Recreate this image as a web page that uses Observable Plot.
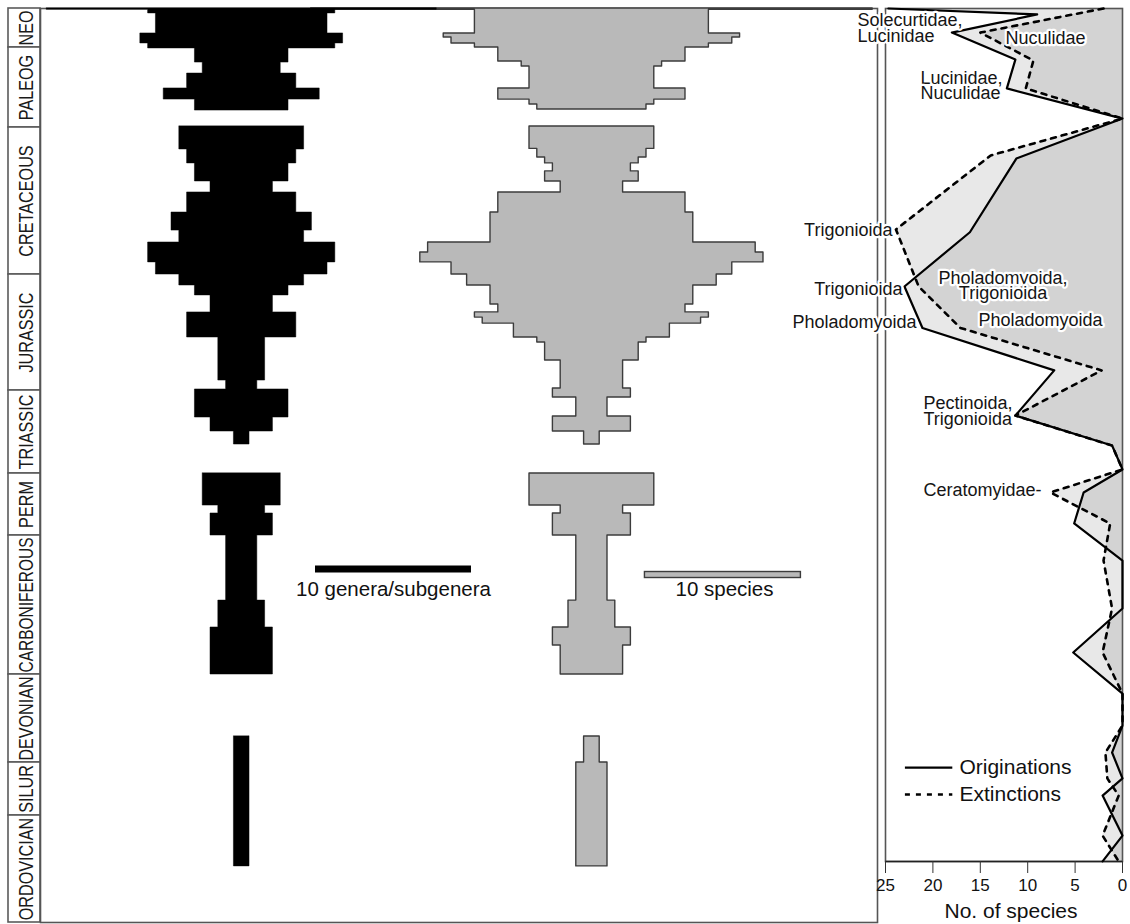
<!DOCTYPE html>
<html><head><meta charset="utf-8">
<script src="https://cdn.jsdelivr.net/npm/d3@7"></script>
<script src="https://cdn.jsdelivr.net/npm/@observablehq/plot@0.6"></script>
<style>
body{margin:0;background:#fff;}
#wrap{position:relative;width:1130px;height:924px;font-family:"Liberation Sans",Arial,Helvetica,sans-serif;}
#wrap svg{position:absolute;left:0;top:0;overflow:visible;background:transparent !important;}
</style></head><body><div id="wrap"></div>
<script>
// ---------- DATA ----------
// geological periods (ages in Ma)
const periodNames = ["NEO","PALEOG","CRETACEOUS","JURASSIC","TRIASSIC","PERM","CARBONIFEROUS","DEVONIAN","SILUR","ORDOVICIAN"];
const periodTop  = [0, 23, 66, 145, 201, 252, 299, 359, 419, 444];
const periodBase = [23, 66, 145, 201, 252, 299, 359, 419, 444, 485];

// genera/subgenera diversity per time bin: [top Ma, base Ma, count]
const generaBins = [
  [0,0.8,25],[0.8,2.9,12],[2.9,14.7,11],[14.7,20.6,13],[20.6,23.5,12],[23.5,31.1,6],[31.1,37.0,5],[37.0,45.0,7],[45.0,51.0,10],[51.0,56.9,6],
  [65.5,77.8,8],[77.8,85.3,7],[85.3,95.0,6],[95.0,100.9,4],[100.9,111.7,7],[111.7,121.4,9],[121.4,127.8,8],[127.8,138.5,12],[138.5,145,11],
  [145,150.3,8],[150.3,155.1,6],[155.1,163.3,4],[163.3,175.4,7],[175.4,196.2,3],[196.2,200.5,2],[200.5,217.6,6],[217.6,226.2,4],[226.2,234.2,1],
  [252,276.3,5],[276.3,282.3,3],[282.3,299,4],[299,327.1,2],[327.1,338.7,3],[338.7,359,4],
  [401.3,463.5,1]
];
// species diversity per time bin: [top Ma, base Ma, count]
const speciesBins = [
  [0,0.8,36],[0.8,14.7,15],[14.7,17.1,19],[17.1,20.6,18],[20.6,23,15],[23,30.5,12],[30.5,33.2,9],[33.2,45,8],[45,51,12],[51,53.6,8],[53.6,56.3,7],
  [65.5,77.5,8],[77.5,82.1,7],[82.1,85.3,6],[85.3,89.6,5],[89.6,95,6],[95,100.9,4],[100.9,111.7,12],[111.7,127.8,13],[127.8,133.2,21],[133.2,138.5,22],[138.5,145,18],
  [145,150.3,16],[150.3,159.5,13],[159.5,163.3,12],[163.3,165.8,15],[165.8,168.7,14],[168.7,175.4,10],[175.4,177.8,7],[177.8,186.5,6],[186.5,200,4],
  [200,205.3,5],[205.3,217,2],[217,226.2,5],[226.2,234.2,1],
  [252,276.3,8],[276.3,282.3,4],[282.3,299,5],[299,327.1,2],[327.1,338.7,3],[338.7,346.5,5],[346.5,359,4],
  [401.3,419,1],[419,463.5,2]
];

// originations / extinctions (No. of species)
const originAge = [0,3.5,14.2,29.5,45.0,61.2,82.7,122.3,150.8,170.8,191.3,216.4,234.8,249.5,266.4,289.9,309.8,330.5,349.5,372.0,393.8,412.2,426.5,434.6,451.7,461.6];
const originN   = [24.7,9.0,18.0,11.3,12.2,0,11.2,16.1,23.0,21.1,7.2,11.3,1.1,0,4.1,5.1,0,0,5.2,0,0,1.1,0,2.1,0,2.1];
const extinctAge = [0,14.2,30.0,45.0,61.2,81.0,120.8,150.8,170.8,191.3,216.4,234.8,249.5,266.4,289.9,309.8,330.5,349.5,372.0,393.8,412.2,426.5,434.6,451.7,461.6];
const extinctN   = [2.0,15.0,9.4,10.2,0,13.9,23.9,21.5,17.1,2.2,11.3,1.1,0,7.6,1.3,2.0,1.1,2.1,0,0,1.8,1.6,0.4,2.1,0.4];

// annotations on right panel
const noteText   = ["Solecurtidae,\nLucinidae","Nuculidae","Lucinidae,\nNuculidae","Trigonioida","Trigonioida","Pholadomyoida","Pholadomyoida,\nTrigonioida","Pholadomyoida","Pectinoida,\nTrigonioida","Ceratomyidae-"];
const noteAge    = [12.2, 18.0, 44.0, 121.9, 152.5, 168.2, 150.8, 167.5, 214.3, 265.3];
const noteN      = [27.95, 12.34, 21.31, 24.26, 23.2, 21.73, 12.6, 15.19, 20.99, 20.99];
const noteAnchor = ["start","start","start","end","end","end","middle","start","start","start"];
const noteBox    = [true,true,true,true,true,true,true,true,false,false];

const legendLabels = ["Originations","Extinctions"];
const legendAge    = [421.4, 434.1];

const scaleLabels = ["10 genera/subgenera","10 species"];
const scaleLength = 10;

// ---------- LAYOUT ----------
const W = 1130, H = 924;
const font = "'Liberation Sans', Arial, Helvetica, sans-serif";
const styleStr = `font-family:${font};background:transparent;overflow:visible;color:#111;`;
const yDomain = [0, ...periodBase];
const yRange = [8, 47, 127, 274, 390, 473, 535, 674, 762, 815, 922];
// the figure's time axis is piecewise linear (period by period)
const timePos = d3.scaleLinear().domain(yDomain).range(yRange);
const yOpt = {transform: d => timePos(d), domain: [8, 922], range: [8, 922], axis: null};
const generaCenter = 0, speciesCenter = 22.45;
const wrap = document.getElementById("wrap");

const periods = periodNames.map((name, i) => ({name, top: periodTop[i], base: periodBase[i]}));

// ---------- PERIOD COLUMN ----------
const plotP = Plot.plot({
  width: W, height: H, marginLeft: 8, marginRight: W - 40, marginTop: 8, marginBottom: 2,
  x: {domain: [0, 1], axis: null}, y: yOpt, style: styleStr,
  marks: [
    Plot.rect(periods, {x1: 0, x2: 1, y1: "top", y2: "base", fill: "white", stroke: "#5a5a5a", strokeWidth: 1.6}),
    Plot.text(periods, {x: 0.5, y: d => (d.top + d.base) / 2, text: "name", rotate: -90, fontSize: 20, fill: "#1a1a1a", dx: 2})
  ]
});
wrap.append(plotP);
d3.select(plotP).selectAll("text").each(function(_, i) {
  const p = periods[i];
  if (!p) return;
  const box = timePos(p.base) - timePos(p.top);
  const len = this.getComputedTextLength();
  this.setAttribute("textLength", Math.min(len * 0.81, box - 4));
  this.setAttribute("lengthAdjust", "spacingAndGlyphs");
});

// ---------- SPINDLES ----------
function spindle(bins, c) {
  const pts = []; let g = 0, prev = null;
  for (const [top, base, n] of bins) {
    if (prev !== null && Math.abs(top - prev) > 0.01) g++;
    pts.push({y: top, x1: c - n / 2, x2: c + n / 2, g}, {y: base, x1: c - n / 2, x2: c + n / 2, g});
    prev = base;
  }
  return pts;
}
const plotM = Plot.plot({
  width: W, height: H, marginLeft: 40, marginRight: W - 877, marginTop: 8, marginBottom: 2,
  x: {domain: [-12.9, 40.76], axis: null}, y: yOpt, style: styleStr,
  marks: [
    Plot.frame({stroke: "#555", strokeWidth: 1.6}),
    Plot.areaX(spindle(speciesBins, speciesCenter), {y: "y", x1: "x1", x2: "x2", z: "g", fill: "#b9b9b9", stroke: "#3c3c3c", strokeWidth: 1.4}),
    Plot.areaX(spindle(generaBins, generaCenter), {y: "y", x1: "x1", x2: "x2", z: "g", fill: "#000", stroke: "#000", strokeWidth: 0.5}),
    Plot.ruleY([313.46], {x1: 4.73, x2: 4.73 + scaleLength, stroke: "#000", strokeWidth: 7}),
    Plot.rect([0], {x1: 25.85, x2: 25.85 + scaleLength, y1: 314.76, y2: 317.35, fill: "#b9b9b9", stroke: "#3c3c3c", strokeWidth: 1.4}),
    Plot.text(scaleLabels, {x: [4.73 + scaleLength / 2, 25.85 + scaleLength / 2 + 0.1], y: [322.3, 322.3], text: d => d, fontSize: 20.5, fill: "#111"})
  ]
});
wrap.append(plotM);

// ---------- ORIGINATIONS / EXTINCTIONS ----------
const orig = originAge.map((a, i) => ({age: a, n: originN[i]}));
const ext = extinctAge.map((a, i) => ({age: a, n: extinctN[i]}));
const notes = noteText.map((t, i) => ({text: t, age: noteAge[i], n: noteN[i], anchor: noteAnchor[i], box: noteBox[i]}));
const noteMarks = [];
for (const anchor of ["start", "end", "middle"]) {
  const sub = notes.filter(d => d.anchor === anchor);
  // boxed labels: white halo painted beneath the glyphs
  noteMarks.push(Plot.text(sub.filter(d => d.box), {x: "n", y: "age", text: "text", textAnchor: anchor, fontSize: 18, lineHeight: 0.86, fill: "#151515", stroke: "white", strokeWidth: 4.5, strokeLinejoin: "round", paintOrder: "stroke"}));
  noteMarks.push(Plot.text(sub.filter(d => !d.box), {x: "n", y: "age", text: "text", textAnchor: anchor, fontSize: 18, lineHeight: 0.86, fill: "#151515"}));
}
const plotR = Plot.plot({
  width: W, height: H, marginLeft: 885, marginRight: 8, marginTop: 8, marginBottom: 63,
  x: {domain: [25, 0]}, y: yOpt, style: styleStr,
  marks: [
    Plot.areaX(orig, {x: "n", y: "age", fill: "#000", fillOpacity: 0.09}),
    Plot.areaX(ext, {x: "n", y: "age", fill: "#000", fillOpacity: 0.09}),
    Plot.frame({stroke: "#555", strokeWidth: 1.6}),
    Plot.ruleY([461.6], {x1: 25, x2: 0, stroke: "#222", strokeWidth: 1.6}),
    Plot.axisX({ticks: [25, 20, 15, 10, 5, 0], tickSize: 12, tickPadding: 5, fontSize: 17, label: null, tickFormat: d => String(d), stroke: "#333"}),
    Plot.text(["No. of species"], {frameAnchor: "bottom", dy: 56, dx: 7, fontSize: 21, fill: "#111"}),
    Plot.lineX(orig, {x: "n", y: "age", stroke: "#000", strokeWidth: 2.2}),
    Plot.lineX(ext, {x: "n", y: "age", stroke: "#000", strokeWidth: 2.6, strokeDasharray: "5,6"}),
    Plot.ruleY([legendAge[0]], {x1: 22.9, x2: 17.9, stroke: "#000", strokeWidth: 2.2}),
    Plot.ruleY([legendAge[1]], {x1: 22.9, x2: 17.9, stroke: "#000", strokeWidth: 2.6, strokeDasharray: "5,6"}),
    Plot.text(legendLabels, {x: 17.2, y: legendAge, text: d => d, textAnchor: "start", fontSize: 21, fill: "#111"}),
    ...noteMarks
  ]
});
wrap.append(plotR);
// make sure halos sit beneath the glyphs
d3.select(plotR).selectAll("g[aria-label='text']").filter(function() { return this.getAttribute("stroke") === "white"; })
  .attr("paint-order", "stroke");
</script></body></html>
